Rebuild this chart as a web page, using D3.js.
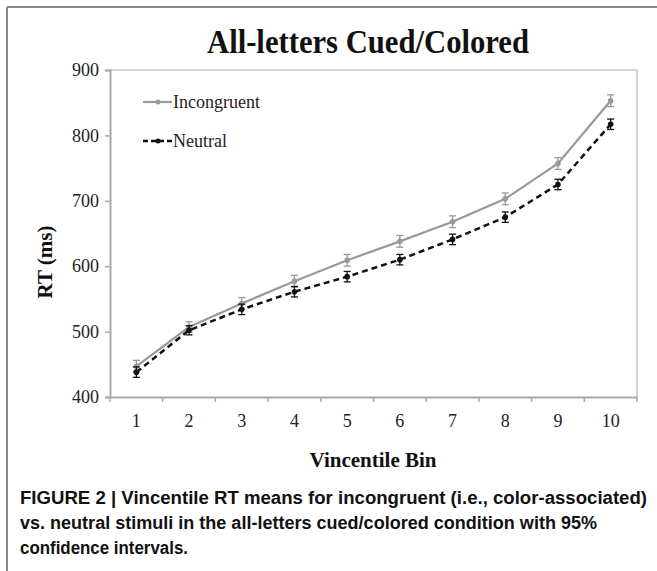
<!DOCTYPE html>
<html>
<head>
<meta charset="utf-8">
<script src="https://cdn.jsdelivr.net/npm/d3@7/dist/d3.min.js"></script>
<style>
  html, body { margin: 0; padding: 0; background: #fff; }
  svg { display: block; }
</style>
</head>
<body>
<svg id="chart" width="657" height="571"></svg>
<script>
const bins = [1, 2, 3, 4, 5, 6, 7, 8, 9, 10];
const incongruent = [447, 507, 543, 577, 609, 638, 668, 703, 757, 853];
const incongruentErr = [9, 8, 9, 9, 9, 9, 9, 9, 9, 9];
const neutral = [438, 502, 534, 561, 584, 610, 641, 675, 725, 817];
const neutralErr = [8, 7, 8, 8, 8, 8, 8, 8, 8, 8];
const yTicks = [400, 500, 600, 700, 800, 900];
const title = "All-letters Cued/Colored";
const xLabel = "Vincentile Bin";
const yLabel = "RT (ms)";
const seriesNames = ["Incongruent", "Neutral"];
const captionLines = [
  "FIGURE 2 | Vincentile RT means for incongruent (i.e., color-associated)",
  "vs. neutral stimuli in the all-letters cued/colored condition with 95%",
  "confidence intervals."
];

const svg = d3.select("#chart");
const plot = {left: 110, right: 637, top: 70, bottom: 397};
const serif = "'Liberation Serif', 'Times New Roman', serif";
const sans = "'Liberation Sans', Arial, sans-serif";

// figure frame (top and left)
svg.append("line").attr("x1", 7).attr("x2", 657).attr("y1", 7).attr("y2", 7)
  .attr("stroke", "#8a8a8a").attr("stroke-width", 2);
svg.append("line").attr("x1", 7).attr("x2", 7).attr("y1", 7).attr("y2", 571)
  .attr("stroke", "#8a8a8a").attr("stroke-width", 2);

const x = d3.scaleBand().domain(bins).range([plot.left, plot.right]);
const y = d3.scaleLinear().domain([400, 900]).range([plot.bottom, plot.top]);

// plot border top/right
svg.append("path")
  .attr("d", `M${plot.left},${plot.top}H${plot.right}V${plot.bottom}`)
  .attr("fill", "none").attr("stroke", "#c8c8c8").attr("stroke-width", 1.5);

// y axis
const yAxis = svg.append("g").attr("transform", `translate(${plot.left},0)`)
  .call(d3.axisLeft(y).tickValues(yTicks).tickSize(5).tickPadding(6).tickFormat(d3.format("d")));
yAxis.select(".domain").attr("stroke", "#a8a8a8").attr("stroke-width", 2);
yAxis.selectAll(".tick line").attr("stroke", "#a8a8a8").attr("stroke-width", 1.5);
yAxis.selectAll("text").attr("font-family", serif).attr("font-size", 18).attr("fill", "#222");

// x axis, ticks at band boundaries
const xAxis = svg.append("g").attr("transform", `translate(0,${plot.bottom})`)
  .call(d3.axisBottom(x).tickSize(0).tickPadding(17));
xAxis.select(".domain").attr("stroke", "#a8a8a8").attr("stroke-width", 2);
xAxis.selectAll("text").attr("font-family", serif).attr("font-size", 18).attr("fill", "#222");
xAxis.selectAll(".bnd").data(bins.concat([null])).enter().append("line")
  .attr("x1", (d, i) => plot.left + i * x.step()).attr("x2", (d, i) => plot.left + i * x.step())
  .attr("y1", 0).attr("y2", 5).attr("stroke", "#a8a8a8").attr("stroke-width", 1.5);

// title and axis labels
svg.append("text").attr("x", 368).attr("y", 53).attr("text-anchor", "middle")
  .attr("font-family", serif).attr("font-weight", "bold").attr("font-size", 33)
  .attr("textLength", 322).attr("lengthAdjust", "spacingAndGlyphs")
  .attr("fill", "#111").text(title);
svg.append("text").attr("x", 373).attr("y", 467).attr("text-anchor", "middle")
  .attr("font-family", serif).attr("font-weight", "bold").attr("font-size", 21)
  .attr("fill", "#111").text(xLabel);
svg.append("text").attr("transform", "translate(52,262) rotate(-90)").attr("text-anchor", "middle")
  .attr("font-family", serif).attr("font-weight", "bold").attr("font-size", 21)
  .attr("fill", "#111").text(yLabel);

const cx = d => x(d) + x.bandwidth() / 2;
const series = [
  {name: seriesNames[0], vals: incongruent, err: incongruentErr, color: "#999", dash: null, width: 2.2},
  {name: seriesNames[1], vals: neutral, err: neutralErr, color: "#111", dash: "6,4", width: 2.5}
];
const line = d3.line().x(d => cx(d.b)).y(d => y(d.v));

series.forEach(s => {
  const pts = bins.map((b, i) => ({b, v: s.vals[i], e: s.err[i]}));
  const g = svg.append("g");
  g.append("path").datum(pts).attr("d", line).attr("fill", "none")
    .attr("stroke", s.color).attr("stroke-width", s.width)
    .attr("stroke-dasharray", s.dash);
  const eb = g.selectAll(".eb").data(pts).enter().append("g");
  eb.append("line").attr("x1", d => cx(d.b)).attr("x2", d => cx(d.b))
    .attr("y1", d => y(d.v - d.e)).attr("y2", d => y(d.v + d.e))
    .attr("stroke", s.color).attr("stroke-width", 1.3);
  [1, -1].forEach(sg => {
    eb.append("line").attr("x1", d => cx(d.b) - 3.5).attr("x2", d => cx(d.b) + 3.5)
      .attr("y1", d => y(d.v + sg * d.e)).attr("y2", d => y(d.v + sg * d.e))
      .attr("stroke", s.color).attr("stroke-width", 1.3);
  });
  eb.append("circle").attr("cx", d => cx(d.b)).attr("cy", d => y(d.v)).attr("r", 2.8)
    .attr("fill", s.color);
});

// legend
const leg = [{y: 102, ty: 108}, {y: 141, ty: 147}];
series.forEach((s, i) => {
  svg.append("line").attr("x1", 143).attr("x2", 172).attr("y1", leg[i].y).attr("y2", leg[i].y)
    .attr("stroke", s.color).attr("stroke-width", s.width).attr("stroke-dasharray", s.dash ? "5,3" : null);
  svg.append("circle").attr("cx", 158).attr("cy", leg[i].y).attr("r", 2.5).attr("fill", s.color);
  svg.append("text").attr("x", 173).attr("y", leg[i].ty).attr("font-family", serif)
    .attr("font-size", 18).attr("fill", "#222").text(s.name);
});

// caption
const capY = [504, 529, 554];
const capLen = [627, 577, 168];
captionLines.forEach((t, i) => {
  svg.append("text").attr("x", 20).attr("y", capY[i]).attr("font-family", sans)
    .attr("font-weight", "bold").attr("font-size", 17.5).attr("fill", "#111")
    .attr("textLength", capLen[i]).attr("lengthAdjust", "spacingAndGlyphs").text(t);
});
</script>
</body>
</html>
